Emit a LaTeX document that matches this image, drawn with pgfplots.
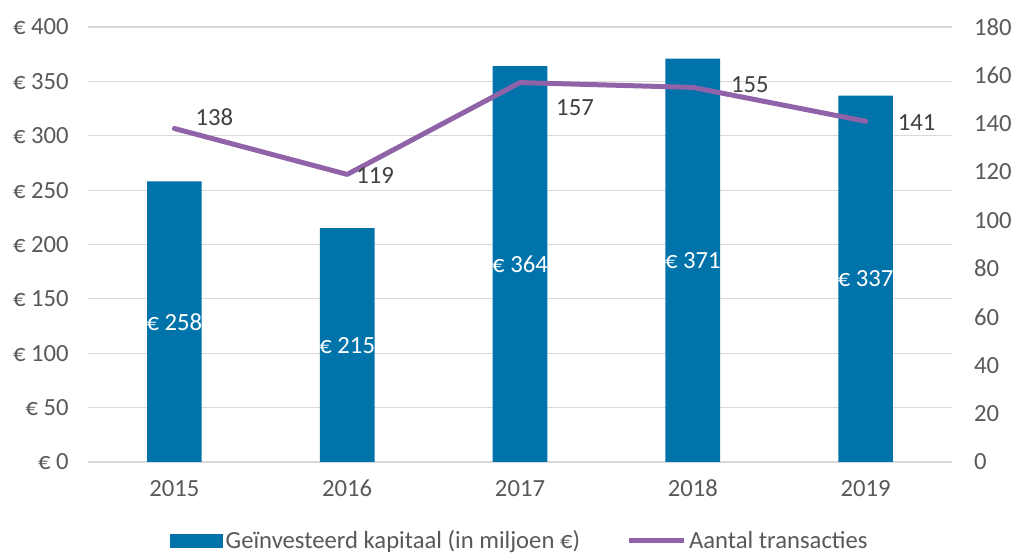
\documentclass[border=0pt]{standalone}
\usepackage{fontspec}
\setmainfont{Carlito}
\usepackage{pgfplots}
\usepackage{pgfplotstable}
\pgfplotsset{compat=1.18}

\definecolor{barblue}{HTML}{0073AA}
\definecolor{linepurple}{HTML}{9063A8}
\definecolor{ticktext}{HTML}{595959}
\definecolor{labeltext}{HTML}{404040}
\definecolor{gridgrey}{HTML}{D9D9D9}

% kapitaal per jaar (miljoen euro)
\pgfplotstableread{
x val
0 258
1 215
2 364
3 371
4 337
}\kapitaal

% aantal transacties, dx/dy = label offset in pt
\pgfplotstableread{
x val dx dy
0 138 30 8.25
1 119 21 -0.75
2 157 41.25 -18.75
3 155 42.75 2.25
4 141 38.25 -0.75
}\transacties

\newcommand{\chartfont}{\fontsize{18.5}{22}\selectfont}

\begin{document}
\begin{tikzpicture}
\pgfplotsset{
  every axis/.append style={
    scale only axis,
    width=648pt, height=326.25pt,
    xmin=-0.5, xmax=4.5,
    /pgf/number format/assume math mode=true,
    tick style={draw=none},
    ticklabel style={font=\chartfont, text=ticktext},
  },
}
\begin{axis}[
    ymin=0, ymax=400,
    ytick={0,50,...,400},
    yticklabel={€ \pgfmathprintnumber{\tick}},
    yticklabel style={xshift=-11pt},
    xtick=data,
    xticklabels={2015,2016,2017,2018,2019},
    xticklabel style={yshift=-10pt},
    axis line style={draw=none},
    ymajorgrids=true,
    major grid style={gridgrey, line width=0.9pt},
    legend style={at={(0.5,-0.181)}, anchor=center, draw=none,
      legend columns=2, font=\chartfont, text=ticktext,
      /tikz/every odd column/.append style={column sep=0pt},
      /tikz/every even column/.append style={column sep=33pt}},
    legend cell align=left,
  ]
  \addplot[ybar, bar width=41pt, fill=barblue, draw=none,
    nodes near coords={€ \pgfmathprintnumber{\pgfplotspointmeta}},
    visualization depends on={\thisrow{val} \as \barval},
    every node near coord/.append style={anchor=center,
      yshift=-\barval*0.4078pt, text=white, font=\chartfont},
    legend image code/.code={\fill[barblue] (0pt,-5.25pt) rectangle (40pt,5.25pt);},
  ] table[x=x, y=val] {\kapitaal};
  \addlegendentry{Geïnvesteerd kapitaal (in miljoen €)}
  \addlegendimage{linepurple, line width=3.75pt,
    legend image code/.code={\draw[linepurple, line width=3.75pt] (0pt,0pt) -- (41pt,0pt);}}
  \addlegendentry{Aantal transacties}
\end{axis}
\begin{axis}[
    ymin=0, ymax=180,
    ytick={0,20,...,180},
    axis x line=none,
    axis y line*=right,
    y axis line style={draw=none},
    yticklabel style={xshift=13pt},
    clip=false,
  ]
  \addplot[linepurple, line width=3.75pt, line join=round, line cap=round,
    nodes near coords,
    visualization depends on={\thisrow{dx} \as \ldx},
    visualization depends on={\thisrow{dy} \as \ldy},
    every node near coord/.append style={anchor=center,
      xshift=\ldx pt, yshift=\ldy pt, text=labeltext, font=\chartfont},
  ] table[x=x, y=val] {\transacties};
\end{axis}
\pgfresetboundingbox
\path (-66pt,-70.5pt) rectangle (694.5pt,346.5pt);
\end{tikzpicture}
\end{document}
